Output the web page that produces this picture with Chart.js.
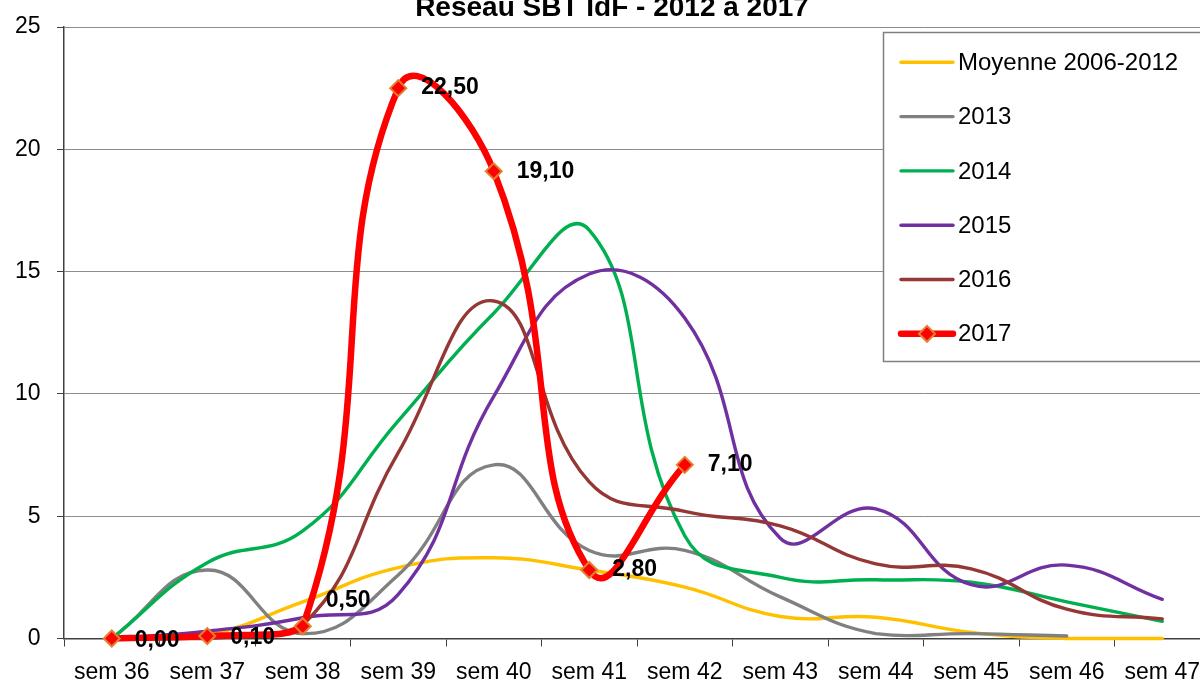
<!DOCTYPE html>
<html>
<head>
<meta charset="utf-8">
<script src="https://cdn.jsdelivr.net/npm/chart.js@4.4.0/dist/chart.umd.min.js"></script>
<style>
  html, body { margin: 0; padding: 0; background: #fff; overflow: hidden; }
  #wrap { position: relative; width: 1200px; height: 682px; overflow: hidden; }
  canvas { position: absolute; left: 0; top: 0; }
</style>
</head>
<body>
<div id="wrap"><canvas id="chart" width="1220" height="682"></canvas></div>
<script>
const chartTitle = 'Réseau SBT IdF - 2012 à 2017';
const weeks = ['sem 36', 'sem 37', 'sem 38', 'sem 39', 'sem 40', 'sem 41',
               'sem 42', 'sem 43', 'sem 44', 'sem 45', 'sem 46', 'sem 47'];
const yTicks = [0, 5, 10, 15, 20, 25];

const moyenne = [0, 0.15, 1.5, 2.9, 3.3, 2.8, 2.1, 0.9, 0.87, 0.25, 0, 0];
const v2013 = [0, 2.8, 0.2, 2.6, 7.1, 3.6, 3.6, 1.7, 0.2, 0.2, 0.1, null];
const v2014 = [0, 3.1, 4.4, 8.9, 13.3, 16.7, 4.2, 2.5, 2.4, 2.3, 1.5, 0.7];
const v2015 = [0, 0.3, 0.85, 1.8, 9.9, 14.9, 13.1, 4.1, 5.3, 2.2, 3.0, 1.6];
const v2016 = [0, 0, 0.55, 7.6, 13.8, 6.4, 5.2, 4.6, 3.05, 2.85, 1.2, 0.8];
const v2017 = [0, 0.1, 0.5, 22.5, 19.1, 2.8, 7.1, null, null, null, null, null];

const seriesNames = ['Moyenne 2006-2012', '2013', '2014', '2015', '2016', '2017'];
const seriesValues = [moyenne, v2013, v2014, v2015, v2016, v2017];
const seriesColors = ['#FFC000', '#808080', '#00B050', '#7030A0', '#953735', '#FF0000'];

const FONT = '"Liberation Sans", Arial, sans-serif';
Chart.defaults.font.family = FONT;
Chart.defaults.color = '#000';

// title sits partly above the top edge, like the screenshot
const titlePlugin = {
    id: 'cutTitle',
    afterDraw(chart) {
        const ctx = chart.ctx;
        ctx.save();
        ctx.font = 'bold 28px ' + FONT;
        ctx.fillStyle = '#000';
        ctx.textAlign = 'center';
        ctx.textBaseline = 'alphabetic';
        ctx.fillText(chartTitle, 612, 16);
        ctx.restore();
    }
};

const labelPlugin = {
    id: 'valueLabels',
    afterDatasetsDraw(chart) {
        const meta = chart.getDatasetMeta(5);
        const ctx = chart.ctx;
        ctx.save();
        ctx.font = 'bold 23px ' + FONT;
        ctx.fillStyle = '#000';
        ctx.textBaseline = 'middle';
        meta.data.forEach((pt, i) => {
            const v = v2017[i];
            if (v == null) return;
            let dy = 0;
            if (i === 2) dy = -26;
            else if (v < 0.2) dy = 2;
            ctx.fillText(v.toFixed(2).replace('.', ','), pt.x + 23, pt.y + dy);
        });
        ctx.restore();
    }
};

const legendPlugin = {
    id: 'boxLegend',
    afterDraw(chart) {
        const ctx = chart.ctx;
        const left = 883.5, top = 32.5, bottom = 361.5;
        ctx.save();
        ctx.fillStyle = '#fff';
        ctx.fillRect(left, top, 400, bottom - top);
        ctx.strokeStyle = '#7f7f7f';
        ctx.lineWidth = 1.5;
        ctx.strokeRect(left, top, 400, bottom - top);
        ctx.font = '24px ' + FONT;
        ctx.textBaseline = 'middle';
        chart.data.datasets.forEach((ds, i) => {
            const y = 62.3 + i * 54.3;
            ctx.strokeStyle = ds.borderColor;
            ctx.lineWidth = ds.borderWidth;
            ctx.lineCap = 'round';
            ctx.beginPath();
            ctx.moveTo(901, y);
            ctx.lineTo(953, y);
            ctx.stroke();
            if (ds.pointRadius > 0) {
                ctx.fillStyle = ds.pointBackgroundColor;
                ctx.strokeStyle = ds.pointBorderColor;
                ctx.lineWidth = ds.pointBorderWidth;
                Chart.helpers.drawPoint(ctx, {pointStyle: 'rectRot', radius: ds.pointRadius, borderWidth: ds.pointBorderWidth, rotation: 0}, 927, y);
            }
            ctx.fillStyle = '#000';
            ctx.fillText(ds.label, 958, y + 1);
        });
        ctx.restore();
    }
};

const datasets = seriesNames.map((name, i) => ({
    label: name,
    data: seriesValues[i],
    borderColor: seriesColors[i],
    backgroundColor: seriesColors[i],
    borderWidth: i === 5 ? 6.5 : 3.4,
    tension: i === 5 ? 0.48 : 0.45,
    pointRadius: i === 5 ? 8 : 0,
    pointHoverRadius: i === 5 ? 8 : 0,
    pointStyle: 'rectRot',
    pointBackgroundColor: '#FF0000',
    pointBorderColor: '#E3802F',
    pointBorderWidth: 2,
    borderCapStyle: 'round',
    borderJoinStyle: 'round',
    fill: false,
    clip: false,
    order: 6 - i
}));

const ctx = document.getElementById('chart');
new Chart(ctx, {
    type: 'line',
    data: { labels: weeks, datasets: datasets },
    options: {
        responsive: false,
        animation: false,
        layout: { padding: { top: 27, right: 8, left: 0, bottom: 0 } },
        plugins: {
            legend: { display: false },
            title: { display: false },
            tooltip: { enabled: false }
        },
        scales: {
            x: {
                offset: true,
                grid: { offset: true, drawOnChartArea: false, drawTicks: true, tickLength: 8, color: '#404040', lineWidth: 1 },
                border: { display: true, color: '#404040', width: 1.5 },
                ticks: { font: { size: 23 }, color: '#000', padding: 12, maxRotation: 0, autoSkip: false },
                afterFit: s => { s.height = 43.5; }
            },
            y: {
                min: 0,
                max: 25,
                afterBuildTicks: s => { s.ticks = yTicks.map(v => ({ value: v })); },
                ticks: { font: { size: 23, lineHeight: 0.9 }, color: '#000', padding: 16.5 },
                grid: { color: '#8c8c8c', lineWidth: 1, tickLength: 7, tickColor: '#404040' },
                border: { color: '#404040', width: 1.5 },
                afterFit: s => { s.width = 64; }
            }
        }
    },
    plugins: [labelPlugin, legendPlugin, titlePlugin]
});
</script>
</body>
</html>
